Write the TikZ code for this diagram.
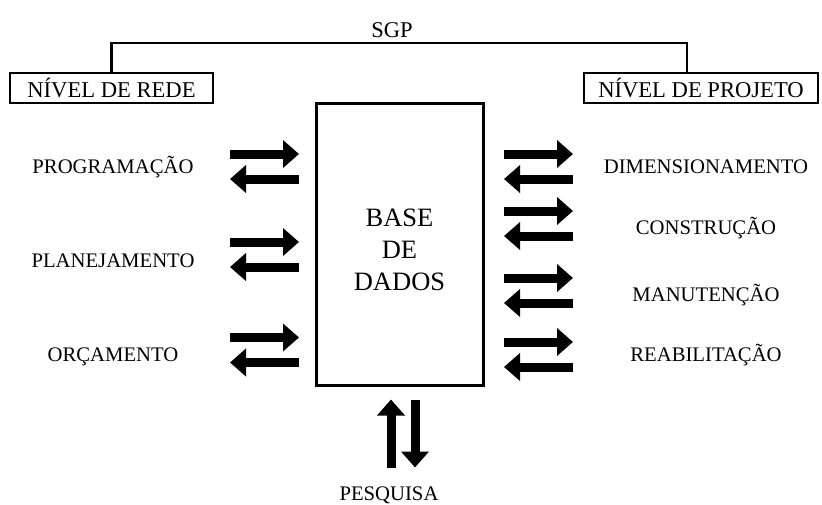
\documentclass[tikz,border=0pt]{standalone}
\usepackage{fontspec}
\setmainfont{Liberation Serif}
\usetikzlibrary{arrows.meta}

\tikzset{
  lbl/.style={font=\fontsize{20.7}{24}\selectfont, anchor=base, inner sep=0pt},
  levelbox/.style={draw, line width=2.6pt, minimum height=30pt, inner sep=0pt,
    text height=18.6pt, text depth=0pt, font=\fontsize{22.6}{26}\selectfont},
  databox/.style={draw, line width=3pt, minimum width=167pt, minimum height=282pt, inner sep=0pt},
  dbtext/.style={align=center, font=\fontsize{26.5}{32}\selectfont},
  flowarrow/.style={line width=9pt, -{Triangle[width=27pt,length=16pt]}},
  linkline/.style={line width=2.6pt}
}

\begin{document}
\begin{tikzpicture}[x=1pt,y=-1pt]
\useasboundingbox (0,0) rectangle (822,504);

% Top of the system
\node[lbl, font=\fontsize{22.5}{26}\selectfont] (sgp) at (392,37) {SGP};

% Levels
\node[levelbox, minimum width=203pt] (rede) at (111.5,88) {NÍVEL DE REDE};
\node[levelbox, minimum width=234pt] (proj) at (701,88) {NÍVEL DE PROJETO};

% Bracket
\coordinate (bar) at (393,43);
\draw[linkline] (rede.north) |- (bar) -| ([xshift=-14pt]proj.north);

% Database
\node[databox] (db) at (399.5,244) {};
\node[dbtext] (dbt) at ([yshift=-6pt]db.center) {BASE\\DE\\DADOS};

% Network level activities
\foreach \name/\txt/\y in {prog/PROGRAMAÇÃO/173, plan/PLANEJAMENTO/267, orc/ORÇAMENTO/361}
    \node[lbl] (\name) at (113,\y) {\txt};

% Project level activities
\foreach \name/\txt/\y in {dim/DIMENSIONAMENTO/173, cons/CONSTRUÇÃO/234,
                           man/MANUTENÇÃO/301, reab/REABILITAÇÃO/361}
    \node[lbl] (\name) at (706,\y) {\txt};

% Research
\node[lbl] (pesq) at (389,500.5) {PESQUISA};

% Arrows, left side
\foreach \y in {166.5,254.5,350} {
    \draw[flowarrow] ([xshift=-84.5pt]db.west |- 0,\y-12.5) -- ([xshift=-15.5pt]db.west |- 0,\y-12.5);
    \draw[flowarrow] ([xshift=-15.5pt]db.west |- 0,\y+12.5) -- ([xshift=-84.5pt]db.west |- 0,\y+12.5);
}

% Arrows, right side
\foreach \y in {166.5,223.5,290.5,354.5} {
    \draw[flowarrow] ([xshift=19.5pt]db.east |- 0,\y-12.5) -- ([xshift=88.5pt]db.east |- 0,\y-12.5);
    \draw[flowarrow] ([xshift=88.5pt]db.east |- 0,\y+12.5) -- ([xshift=19.5pt]db.east |- 0,\y+12.5);
}

% Arrows, bottom
\draw[flowarrow] ([xshift=-8.5pt,yshift=-81pt]db.south) -- ([xshift=-8.5pt,yshift=-13pt]db.south);
\draw[flowarrow] ([xshift=15.5pt,yshift=-13pt]db.south) -- ([xshift=15.5pt,yshift=-81pt]db.south);

\end{tikzpicture}
\end{document}
